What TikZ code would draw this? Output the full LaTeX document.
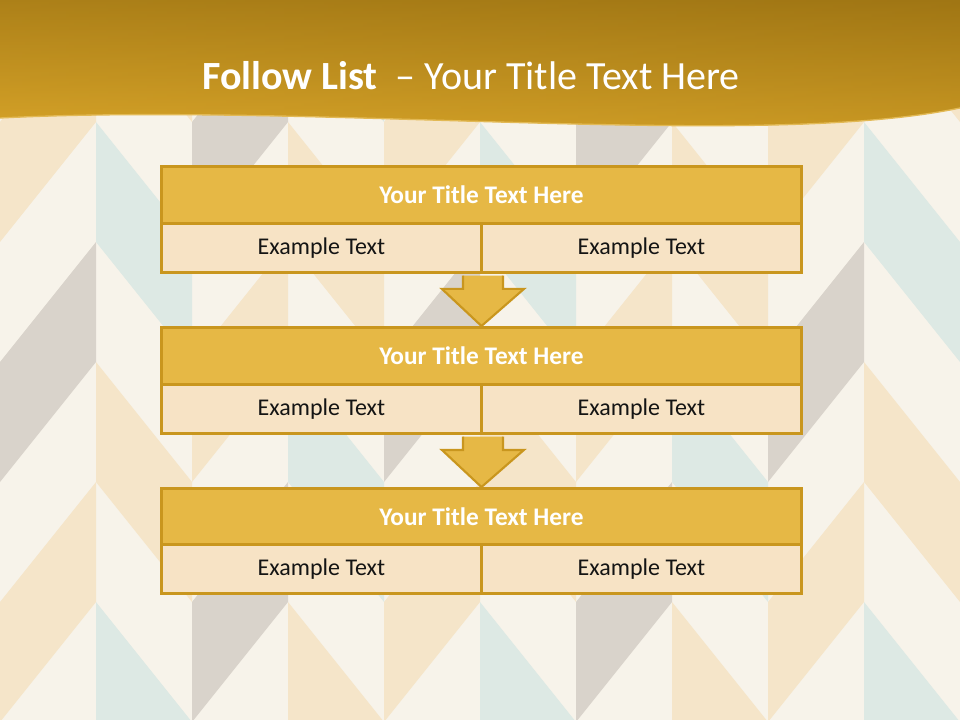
\documentclass[tikz,border=0pt]{standalone}
\usepackage{fontspec}
\setmainfont{Carlito}
\usetikzlibrary{calc}
\definecolor{bgcream}{HTML}{F7F3EA}
\definecolor{bgpeach}{HTML}{F5E5C9}
\definecolor{bggrey}{HTML}{D9D3CB}
\definecolor{bgblue}{HTML}{DDE9E4}
\definecolor{gold}{HTML}{E6B845}
\definecolor{goldline}{HTML}{C9961E}
\definecolor{cellfill}{HTML}{F7E3C5}
\definecolor{textdark}{HTML}{141414}
\definecolor{hdtop}{HTML}{A07614}
\definecolor{hdbot}{HTML}{DBA72A}
\newcommand\slashband[3]{\fill[#3] (#1+96,#2+2) -- (#1+96,#2+122) -- (#1,#2+242) -- (#1,#2+122) -- cycle;}
\newcommand\backband[3]{\fill[#3] (#1,#2+122) -- (#1,#2+242) -- (#1+96,#2+362) -- (#1+96,#2+242) -- cycle;}
\begin{document}
\begin{tikzpicture}[x=0.75pt,y=-0.75pt,
  titlebox/.style={draw=goldline, fill=gold, line width=2.2pt, minimum width=480pt, minimum height=42.75pt, inner sep=0pt, anchor=north west, text=white, font=\fontsize{19}{22}\selectfont\bfseries},
  cellbox/.style={draw=goldline, fill=cellfill, line width=2.2pt, minimum width=240pt, minimum height=36.75pt, inner sep=0pt, anchor=north west, text=textdark, font=\fontsize{18}{22}\selectfont},
  arrowedge/.style={draw=goldline, line width=1.6pt, line join=miter}]
\useasboundingbox (0,0) rectangle (960,720);
\fill[bgcream] (0,0) rectangle (960,720);
\begin{scope}
\clip (0,0) rectangle (960,720);
\foreach \x in {0,384,768}{\slashband{\x}{0}{bgpeach}\slashband{\x}{240}{bggrey}\slashband{\x}{480}{bgpeach}}
\foreach \x in {192,576}{\slashband{\x}{0}{bggrey}\slashband{\x}{240}{bgpeach}\slashband{\x}{480}{bggrey}}
\foreach \x in {96,480,864}{\backband{\x}{-240}{bgpeach}\backband{\x}{0}{bgblue}\backband{\x}{240}{bgpeach}\backband{\x}{480}{bgblue}}
\foreach \x in {288,672}{\backband{\x}{-240}{bgblue}\backband{\x}{0}{bgpeach}\backband{\x}{240}{bgblue}\backband{\x}{480}{bgpeach}}
\end{scope}
% header
\shade[top color=hdtop, bottom color=hdbot] (0,0) -- (960,0) -- (960,108) .. controls (760,150) and (320,102) .. (0,118) -- cycle;
\shade[left color=hdbot, right color=hdtop, opacity=0.22] (0,0) -- (960,0) -- (960,108) .. controls (760,150) and (320,102) .. (0,118) -- cycle;
\draw[draw=hdbot!80!white, line width=1pt] (960,108) .. controls (760,150) and (320,102) .. (0,118);
\node[text=white, font=\fontsize{30}{36}\selectfont] (title) at (471,76) {\textbf{Follow List}\ \ – Your Title Text Here};
% boxes
\node[titlebox] (t1) at (160,165) {\raisebox{1pt}{Your Title Text Here}};
\node[cellbox] (a1) at (160,222) {Example Text};
\node[cellbox] (b1) at (480,222) {Example Text};
\node[titlebox] (t2) at (160,326) {\raisebox{1pt}{Your Title Text Here}};
\node[cellbox] (a2) at (160,383) {Example Text};
\node[cellbox] (b2) at (480,383) {Example Text};
\node[titlebox] (t3) at (160,487) {\raisebox{1pt}{Your Title Text Here}};
\node[cellbox] (a3) at (160,543) {Example Text};
\node[cellbox] (b3) at (480,543) {Example Text};
% arrows
\foreach \s/\e in {a1/t2, a2/t3}{
  \coordinate (p) at (\s.south east);
  \fill[gold] ($(p)+(-20,1.6)$) -- ($(p)+(-20,15)$) -- ($(p)+(-41,15)$) -- (\e.north) -- ($(p)+(41,15)$) -- ($(p)+(20,15)$) -- ($(p)+(20,1.6)$) -- cycle;
  \draw[arrowedge] ($(p)+(-20,1.6)$) -- ($(p)+(-20,15)$) -- ($(p)+(-41,15)$) -- (\e.north) -- ($(p)+(41,15)$) -- ($(p)+(20,15)$) -- ($(p)+(20,1.6)$);
}
\end{tikzpicture}
\end{document}
